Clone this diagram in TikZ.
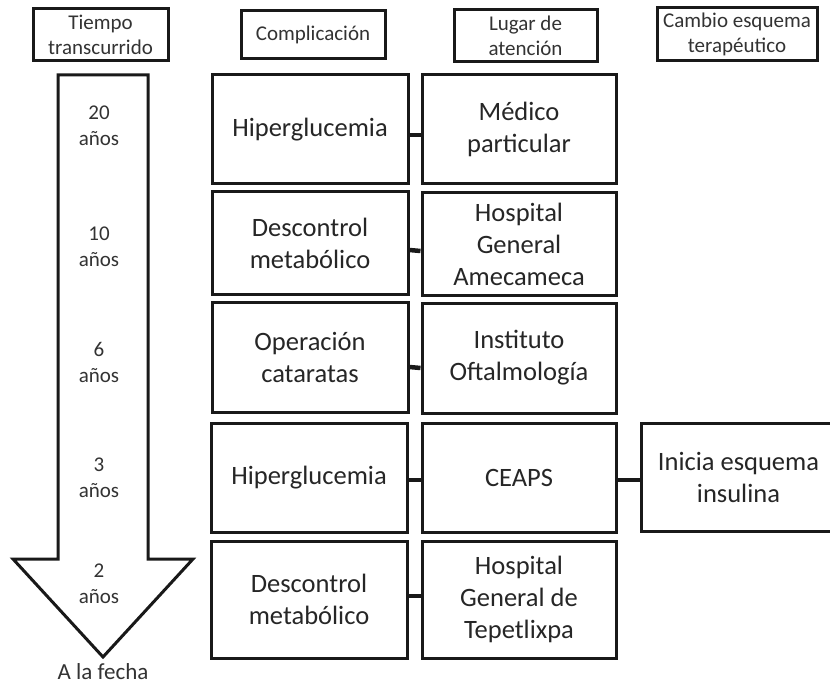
\documentclass[tikz,border=0pt]{standalone}
\usepackage{fontspec}
\setmainfont{Carlito}
\begin{document}
\begin{tikzpicture}[x=1pt,y=-1pt,
  box/.style={draw=black!90, line width=3pt, align=center, inner sep=0pt,
    text=black!85, font=\fontsize{26.5}{32}\selectfont},
  headbox/.style={draw=black!90, line width=3pt, align=center, inner sep=0pt,
    text=black!80, font=\fontsize{21}{25}\selectfont},
  link/.style={draw=black!90, line width=4.5pt},
  timelbl/.style={align=center, inner sep=0pt, text=black!80, font=\fontsize{21}{26}\selectfont},
]
\useasboundingbox (0,0) rectangle (830,687);
\clip (0,0) rectangle (830,687);
\fill[white] (0,0) rectangle (830,687);

% column headers
\node[headbox, minimum width=135pt, minimum height=52pt] (hTiempo) at (100.5,35) {Tiempo\\transcurrido};
\node[headbox, minimum width=144pt, minimum height=48pt] (hComp) at (313,35) {Complicación};
\node[headbox, minimum width=143pt, minimum height=52pt] (hLugar) at (525.5,36) {Lugar de\\atención};
\node[headbox, minimum width=160pt, minimum height=53pt] (hCambio) at (737,34.5) {Cambio esquema\\terapéutico};

% time arrow
\draw[line width=3pt, line join=miter, draw=black!90, fill=white]
  (58,75) -- (148,75) -- (148,559) -- (193,559) -- (103,657) -- (13,559) -- (58,559) -- cycle;
\node[timelbl] (t20) at (99,126) {20\\años};
\node[timelbl] (t10) at (99,247) {10\\años};
\node[timelbl] (t6) at (99,362) {6\\años};
\node[timelbl] (t3) at (99,478) {3\\años};
\node[timelbl] (t2) at (99,584) {2\\años};
\node[timelbl, font=\fontsize{23}{27}\selectfont] (tHoy) at (103,672) {A la fecha};

% complications
\node[box, minimum width=196pt, minimum height=109pt] (c1) at (310,129.5) {Hiperglucemia};
\node[box, minimum width=196pt, minimum height=102pt] (c2) at (310,243) {Descontrol\\metabólico};
\node[box, minimum width=196pt, minimum height=110pt] (c3) at (310,357) {Operación\\cataratas};
\node[box, minimum width=196pt, minimum height=109pt] (c4) at (309,477.5) {Hiperglucemia};
\node[box, minimum width=196pt, minimum height=117pt] (c5) at (309,599.5) {Descontrol\\metabólico};

% places of care
\node[box, minimum width=194pt, minimum height=109pt] (l1) at (519,129.5) {Médico\\particular};
\node[box, minimum width=194pt, minimum height=102pt] (l2) at (519,244) {Hospital\\General\\Amecameca};
\node[box, minimum width=194pt, minimum height=110pt] (l3) at (519,358) {Instituto\\Oftalmología};
\node[box, minimum width=194pt, minimum height=109pt] (l4) at (519,477.5) {CEAPS};
\node[box, minimum width=194pt, minimum height=117pt] (l5) at (519,599.5) {Hospital\\General de\\Tepetlixpa};

% change of treatment
\node[box, minimum width=195pt, minimum height=108pt] (e4) at (738.5,477) {Inicia esquema\\insulina};

% links
\draw[link] ([yshift=-5.5pt]c1.east) -- ([yshift=-5.5pt]l1.west);
\draw[link] ([yshift=-7pt]c2.east) -- ([yshift=-7pt]l2.west);
\draw[link] ([yshift=-10pt]c3.east) -- ([yshift=-10pt]l3.west);
\draw[link] ([yshift=-2.5pt]c4.east) -- ([yshift=-2.5pt]l4.west);
\draw[link] ([yshift=3.5pt]c5.east) -- ([yshift=3.5pt]l5.west);
\draw[link] ([yshift=-2.5pt]l4.east) -- ([yshift=-3pt]e4.west);
\end{tikzpicture}
\end{document}
